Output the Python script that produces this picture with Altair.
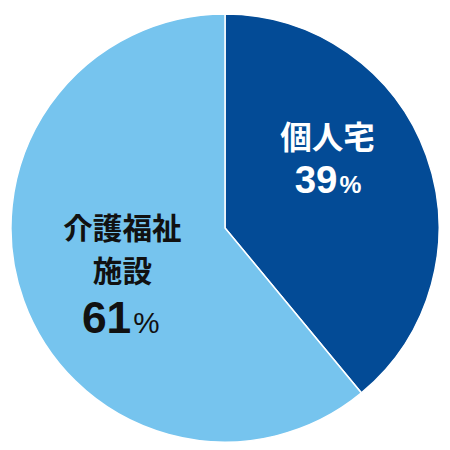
import altair as alt
import pandas as pd

categories = ["個人宅", "介護福祉施設"]
values = [39, 61]
colors = ["#034B96", "#76C4EE"]
label_lines_0 = ["個人宅"]
label_lines_1 = ["介護福祉", "施設"]

CJK = "Noto Sans CJK JP"
NUM = "Liberation Sans"

df = pd.DataFrame({"category": categories, "value": values, "order": [0, 1]})

pie = alt.Chart(df).mark_arc(radius=217, stroke="white", strokeWidth=1.5).encode(
    theta=alt.Theta("value:Q", stack=True),
    color=alt.Color("category:N", scale=alt.Scale(domain=categories, range=colors), legend=None),
    order=alt.Order("order:Q"),
)


def txt(text, x, y, size, color, align="center", weight="bold", font=CJK, line_height=None):
    kw = dict(font=font, fontSize=size, fontWeight=weight, color=color,
              align=align, baseline="alphabetic", text=text)
    if line_height is not None:
        kw["lineHeight"] = line_height
    return alt.Chart(pd.DataFrame({"k": [0]})).mark_text(**kw).encode(
        x=alt.value(x - 8), y=alt.value(y - 8)
    )


layers = [
    pie,
    txt(label_lines_0[0], 329, 145, 32, "white"),
    txt(str(values[0]), 339, 190, 39, "white", align="right", font=NUM),
    txt("%", 341, 190, 25, "white", align="left", font=NUM),
    txt(label_lines_1, 121, 236, 30, "#111111", line_height=44),
    txt(str(values[1]), 130, 331, 45, "#111111", align="right", font=NUM),
    txt("%", 132, 331, 30, "#111111", align="left", weight="normal", font=NUM),
]

chart = alt.layer(*layers).properties(width=434, height=434, padding=0).configure_view(stroke=None)

chart.save("out.html", embed_options={"renderer": "svg", "actions": False})
